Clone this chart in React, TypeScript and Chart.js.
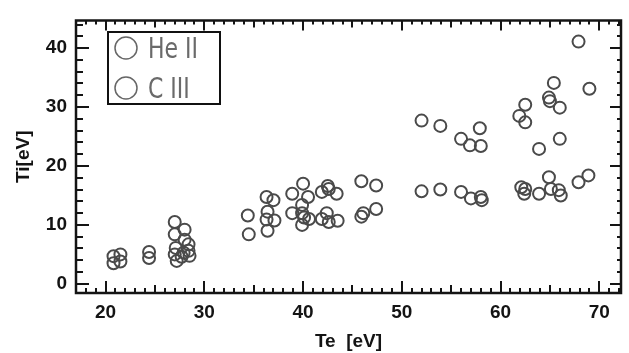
import React, { useEffect, useRef } from "react";
import { Chart, registerables } from "chart.js";

Chart.register(...registerables);

// ---- data ----
const seriesLabels = ["He II", "C III"];

const teHeII = [20.8, 21.5, 24.4, 27.0, 27.0, 28.0, 28.0, 28.4, 27.1,
  34.4, 36.3, 37.0, 36.4, 38.9, 40.0, 40.5, 39.9, 41.9, 42.5, 42.6, 43.4, 45.9, 47.4,
  52.0, 53.9, 56.0, 56.9, 58.0, 57.9,
  67.9, 65.4, 69.0, 64.9, 65.0, 66.0, 62.5, 61.9, 62.5, 66.0, 63.9];
const tiHeII = [4.7, 5.0, 5.4, 10.5, 8.4, 9.2, 7.5, 6.7, 6.1,
  11.6, 14.75, 14.2, 12.25, 15.3, 17.0, 14.75, 13.4, 15.6, 16.6, 16.1, 15.3, 17.4, 16.7,
  27.7, 26.8, 24.6, 23.5, 23.4, 26.4,
  41.1, 34.1, 33.1, 31.6, 31.0, 29.9, 30.4, 28.5, 27.4, 24.6, 22.9];

const teCIII = [20.8, 21.5, 24.4, 27.0, 27.2, 28.4, 27.9, 28.5, 27.7,
  34.5, 36.3, 37.1, 36.4, 38.9, 39.9, 40.1, 40.6, 39.9, 41.9, 42.4, 42.6, 43.5, 45.9, 46.1, 47.4,
  52.0, 53.9, 56.0, 57.0, 58.0, 58.1,
  62.1, 62.5, 62.4, 63.9, 64.9, 65.1, 65.9, 66.1, 67.9, 68.9];
const tiCIII = [3.5, 3.8, 4.4, 5.0, 3.9, 5.6, 5.3, 4.75, 4.6,
  8.4, 10.9, 10.75, 9.0, 12.0, 12.0, 11.25, 11.0, 10.0, 11.0, 12.0, 10.5, 10.7, 11.4, 12.0, 12.7,
  15.7, 16.0, 15.6, 14.5, 14.75, 14.2,
  16.4, 16.1, 15.3, 15.3, 18.1, 16.1, 15.9, 15.0, 17.25, 18.4];

const xTickLabels = [20, 30, 40, 50, 60, 70];
const yTickLabels = [0, 10, 20, 30, 40];
const xTitle = "Te  [eV]";
const yTitle = "Ti[eV]";

const X_MIN = 17;
const X_MAX = 72.2;
const Y_MIN = -1.55;
const Y_MAX = 44.7;

const INK = "#141414";
const MARK = "#4a4a4a";

const framePlugin = {
  id: "frameTicks",
  afterDatasetsDraw(chart: any) {
    const { ctx, chartArea, scales } = chart;
    const xs = scales.x;
    const ys = scales.y;
    const { left, right, top, bottom } = chartArea;
    ctx.save();
    ctx.strokeStyle = INK;
    ctx.lineCap = "butt";
    ctx.lineWidth = 2;
    for (let v = Math.ceil(X_MIN); v <= Math.floor(X_MAX); v++) {
      const px = Math.round(xs.getPixelForValue(v));
      let len = 5;
      if (v % 10 === 0) len = 12;
      else if (v % 5 === 0) len = 8;
      ctx.beginPath();
      ctx.moveTo(px, bottom);
      ctx.lineTo(px, bottom - len);
      ctx.moveTo(px, top);
      ctx.lineTo(px, top + (v % 10 === 0 ? len - 2 : len - 1));
      ctx.stroke();
    }
    for (let v = 0; v <= Math.floor(Y_MAX); v += 2) {
      const py = Math.round(ys.getPixelForValue(v));
      const major = v % 10 === 0;
      ctx.beginPath();
      ctx.moveTo(left, py);
      ctx.lineTo(left + (major ? 13 : 7), py);
      ctx.moveTo(right, py);
      ctx.lineTo(right - (major ? 11 : 4), py);
      ctx.stroke();
    }
    ctx.lineWidth = 2.5;
    ctx.beginPath();
    ctx.rect(left, top, right - left, bottom - top);
    ctx.stroke();
    ctx.restore();
  },
  afterDraw(chart: any) {
    const { ctx } = chart;
    const bx = 108, by = 32, bw = 112, bh = 72;
    ctx.save();
    ctx.fillStyle = "#ffffff";
    ctx.fillRect(bx, by, bw, bh);
    ctx.strokeStyle = "#111";
    ctx.lineWidth = 2;
    ctx.strokeRect(bx, by, bw, bh);
    ctx.font = '29px "Liberation Sans Narrow", "DejaVu Sans Condensed", "Liberation Sans", sans-serif';
    const w = ctx.measureText("He II").width;
    const sx = Math.min(1, 50 / w);
    chart.data.datasets.forEach((ds: any, i: number) => {
      const cy = 48 + i * 40;
      ctx.beginPath();
      ctx.strokeStyle = "#666";
      ctx.lineWidth = 1.5;
      ctx.arc(126, cy, 11, 0, Math.PI * 2);
      ctx.stroke();
      ctx.save();
      ctx.translate(148, cy + 10);
      ctx.scale(sx, 1);
      ctx.fillStyle = "#6a6a6a";
      ctx.textBaseline = "alphabetic";
      ctx.textAlign = "left";
      ctx.fillText(ds.label, 0, 0);
      ctx.restore();
    });
    ctx.restore();
  },
};

export default function App() {
  const ref = useRef<HTMLCanvasElement | null>(null);
  useEffect(() => {
    if (!ref.current) return;
    const tickFont = { family: '"Liberation Sans", Arial, sans-serif', size: 19, weight: "bold" as const };
    const chart = new Chart(ref.current, {
      type: "scatter",
      data: {
        datasets: [
          {
            label: seriesLabels[0],
            data: teHeII.map((x, i) => ({ x, y: tiHeII[i] })),
            borderColor: MARK,
            backgroundColor: "rgba(0,0,0,0)",
            pointRadius: 6,
            pointBorderWidth: 2,
          },
          {
            label: seriesLabels[1],
            data: teCIII.map((x, i) => ({ x, y: tiCIII[i] })),
            borderColor: MARK,
            backgroundColor: "rgba(0,0,0,0)",
            pointRadius: 6,
            pointBorderWidth: 2,
          },
        ],
      },
      options: {
        animation: false,
        responsive: false,
        events: [],
        layout: { padding: { top: 15, right: 1, left: 0, bottom: 0 } },
        plugins: { legend: { display: false }, tooltip: { enabled: false } },
        scales: {
          x: {
            type: "linear",
            min: X_MIN,
            max: X_MAX,
            afterBuildTicks: (s: any) => {
              s.ticks = xTickLabels.map((v) => ({ value: v }));
            },
            afterFit: (s: any) => {
              s.height = 60;
            },
            grid: { display: false, drawTicks: false },
            border: { display: false },
            ticks: { font: tickFont, color: INK, padding: 8, maxRotation: 0, autoSkip: false },
            title: {
              display: true,
              text: xTitle,
              font: tickFont,
              color: INK,
              padding: { top: 0, bottom: 0 },
            },
          },
          y: {
            type: "linear",
            min: Y_MIN,
            max: Y_MAX,
            afterBuildTicks: (s: any) => {
              s.ticks = yTickLabels.map((v) => ({ value: v }));
            },
            afterFit: (s: any) => {
              s.width = 76;
            },
            grid: { display: false, drawTicks: false },
            border: { display: false },
            ticks: { font: tickFont, color: INK, padding: 9, autoSkip: false },
            title: {
              display: true,
              text: yTitle,
              font: tickFont,
              color: INK,
              padding: { top: 12, bottom: 0 },
            },
          },
        },
      },
      plugins: [framePlugin],
    });
    return () => chart.destroy();
  }, []);
  return (
    <div style={{ position: "fixed", left: 0, top: 0, width: 629, height: 353, background: "#fff" }}>
      <canvas ref={ref} width={629} height={353} style={{ display: "block" }} />
    </div>
  );
}
